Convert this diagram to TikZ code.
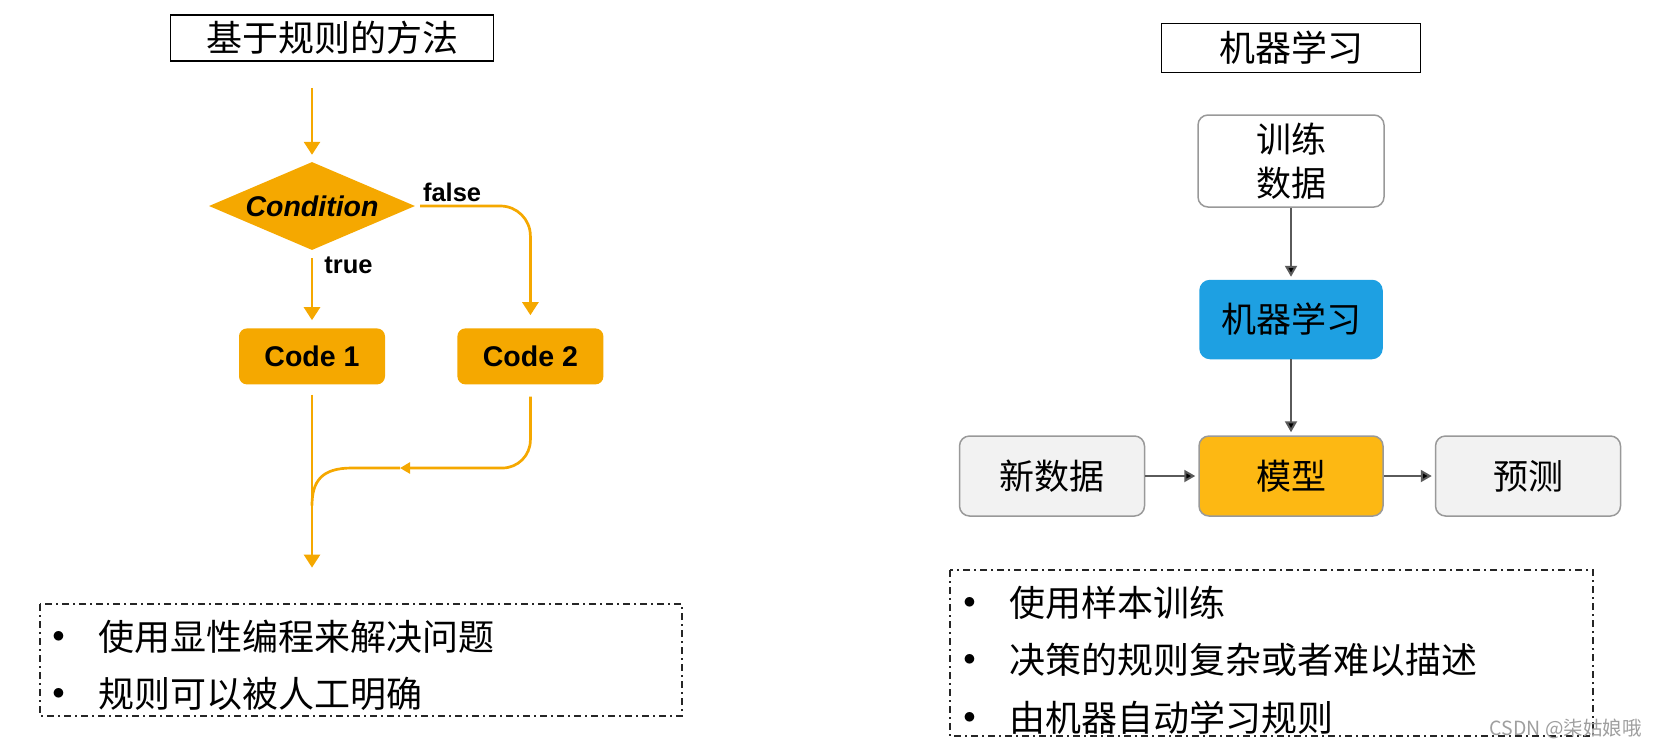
\documentclass[tikz,border=0pt]{standalone}
\usepackage{fontspec}
\setmainfont{Noto Sans CJK SC}
\newfontfamily\hv{Liberation Sans}
\usetikzlibrary{shapes.geometric, positioning, arrows.meta}

\definecolor{flowor}{RGB}{245,168,0}
\definecolor{mlblue}{RGB}{30,160,226}
\definecolor{modelor}{RGB}{253,184,19}
\definecolor{boxgray}{RGB}{242,242,242}
\definecolor{edgegray}{RGB}{90,90,90}

\tikzset{
	heading/.style={draw, line width=1.5pt, inner sep=0pt, font=\fontsize{36}{36}\selectfont},
	decision/.style={diamond, fill=flowor, inner sep=0pt, minimum width=206pt, minimum height=88pt, shape aspect=2.34, font=\hv\bfseries\itshape\fontsize{28.5}{28.5}\selectfont},
	codebox/.style={rectangle, rounded corners=8pt, fill=flowor, minimum width=146pt, minimum height=56pt, font=\hv\bfseries\fontsize{28.5}{28.5}\selectfont},
	flag/.style={inner sep=2pt, font=\hv\bfseries\fontsize{25.5}{25.5}\selectfont},
	flow/.style={draw=flowor, line width=2.7pt},
	databox/.style={rectangle, rounded corners=10pt, draw=gray!80, line width=1.5pt, fill=boxgray, minimum width=185pt, minimum height=80pt, align=center, font=\fontsize{35}{44}\selectfont},
	mlbox/.style={databox, draw=mlblue, fill=mlblue, minimum width=182pt, minimum height=78pt},
	modelbox/.style={databox, fill=modelor, minimum width=184pt},
	link/.style={draw=edgegray, line width=2pt, -{Triangle[width=12pt, length=11pt]}, shorten >=3pt},
	dashframe/.style={draw=black!85, line width=1.5pt, dash pattern=on 7pt off 4pt on 2pt off 4pt},
	point/.style={anchor=west, inner sep=0pt, font=\fontsize{36}{36}\selectfont, label={[inner sep=0pt, label distance=33pt, font=\fontsize{24}{24}\selectfont]left:$\bullet$}}
}

\begin{document}
\begin{tikzpicture}[x=1pt, y=-1pt, >={Triangle[width=16pt, length=13pt]}]
	\useasboundingbox (0,0) rectangle (1656,748);

	\node[heading, minimum width=323pt, minimum height=46pt] (ruletitle) at (332,38) {基于规则的方法};
	\node[decision] (cond) at (312,206) {Condition};
	\coordinate[above=74pt of cond] (entry);
	\node[codebox, below=78pt of cond] (code1) {Code 1};
	\node[codebox, right=72pt of code1] (code2) {Code 2};
	\coordinate[below=183pt of code1] (exit);
	\coordinate[below=121pt of code1] (joinend);
	\coordinate (joinarrow) at (400,468);
	\coordinate (joinbend) at (352,468);

	\draw[flow, ->, shorten >=7pt] (entry) -- (cond);
	\draw[flow, ->, shorten <=8pt, shorten >=8pt] (cond) -- node[flag, right, pos=0.19, xshift=9pt] {true} (code1);
	\draw[flow, ->, rounded corners=30pt, shorten <=5pt, shorten >=13pt] (cond.east) -| node[flag, above, pos=0.16, yshift=1pt] {false} (code2.north);
	\draw[flow, ->, shorten <=10pt] (code1) -- (exit);
	\draw[flow, rounded corners=28pt, -{Triangle[width=11pt, length=10pt]}, shorten <=12pt] (code2.south) |- (joinarrow);
	\draw[flow] (joinarrow) -- (joinbend) .. controls +(-30,0) and +(0,-25) .. (joinend);

	\draw[dashframe] (40,604) rectangle (682,716);
	\node[point] (ruleA) at (98,637) {使用显性编程来解决问题};
	\node[point] (ruleB) at (98,694) {规则可以被人工明确};

	\node[databox, fill=white, minimum width=186pt, minimum height=92pt] (train) at (1291,161) {训练\\数据};
	\node[heading, minimum width=259pt, minimum height=49pt, above=41pt of train] (mltitle) {机器学习};
	\node[mlbox, below=72pt of train] (learner) {机器学习};
	\node[modelbox, below=76pt of learner] (model) {模型};
	\node[databox, left=53pt of model] (newdata) {新数据};
	\node[databox, right=51pt of model] (predict) {预测};

	\draw[link]
	(train) edge (learner)
	(learner) edge (model)
	(newdata) edge (model)
	(model) edge (predict);

	\draw[dashframe] (950,570) rectangle (1593,736);
	\node[point] (mlA) at (1009,603) {使用样本训练};
	\node[point] (mlB) at (1009,660) {决策的规则复杂或者难以描述};
	\node[point] (mlC) at (1009,718) {由机器自动学习规则};

	\node[anchor=east, inner sep=0pt, text=gray!75, font=\fontsize{19.5}{19.5}\selectfont] (mark) at (1642,729) {CSDN @柒姑娘哦};

\end{tikzpicture}
\end{document}
